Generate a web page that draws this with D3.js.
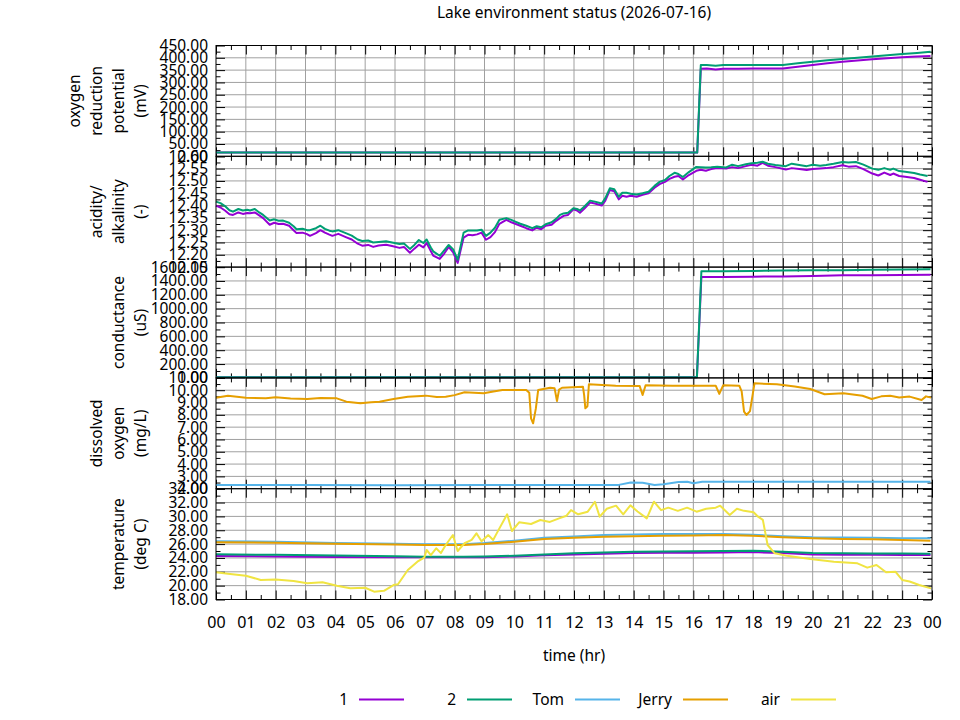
<!DOCTYPE html>
<html>
<head>
<meta charset="utf-8">
<script src="https://cdn.jsdelivr.net/npm/d3@7"></script>
<style>
  html, body { margin: 0; padding: 0; background: #fff; }
  svg { display: block; font-family: "Noto Sans", sans-serif; }
</style>
</head>
<body>
<div id="chart"></div>
<script>
  const TITLE = "Lake environment status (2026-07-16)";
  const X_LABEL = "time (hr)";
  const HOUR_TICKS = [0, 1, 2, 3, 4, 5, 6, 7, 8, 9, 10, 11, 12, 13, 14, 15, 16, 17, 18, 19, 20, 21, 22, 23, 24];
  const HOUR_LABELS = ["00", "01", "02", "03", "04", "05", "06", "07", "08", "09", "10", "11", "12", "13", "14", "15", "16", "17", "18", "19", "20", "21", "22", "23", "00"];

  const SERIES_NAMES = ["1", "2", "Tom", "Jerry", "air"];
  const SERIES_COLORS = ["#9400d3", "#009e73", "#56b4e9", "#e69f00", "#f0e442"];

  // oxygen reduction potential (mV)
  const ORP_TIME = [0, 16.13, 16.25, 16.45, 16.75, 17.0, 17.5, 18.0, 18.5, 19.0, 19.5, 20.0, 20.5, 21.0, 21.5, 22.0, 22.5, 23.0, 23.5, 23.95];
  const ORP_1 = [15, 15, 356, 357, 353, 356, 356, 357, 357, 357, 364, 371, 378, 384, 389, 394, 398, 402, 405, 407];
  const ORP_2 = [15, 15, 371, 371, 368, 371, 371, 371, 371, 371, 378, 384, 390, 395, 400, 405, 410, 415, 420, 425];

  // acidity / alkalinity
  const PH_TIME = [0.00, 0.15, 0.30, 0.45, 0.57, 0.75, 0.90, 1.05, 1.14, 1.30, 1.45, 1.58, 1.80, 1.95, 2.10, 2.25, 2.45, 2.60, 2.70, 2.90,
    3.05, 3.15, 3.35, 3.50, 3.65, 3.80, 3.90, 4.10, 4.35, 4.55, 4.75, 4.90, 5.10, 5.27, 5.45, 5.70, 5.90, 6.15, 6.30, 6.50,
    6.65, 6.80, 6.95, 7.06, 7.20, 7.28, 7.50, 7.65, 7.80, 7.95, 8.10, 8.30, 8.45, 8.60, 8.75, 8.90, 9.05, 9.20, 9.35, 9.50,
    9.73, 9.90, 10.05, 10.20, 10.40, 10.60, 10.75, 10.90, 11.05, 11.25, 11.40, 11.53, 11.65, 11.80, 11.98, 12.10, 12.20, 12.35, 12.54, 12.70,
    12.93, 13.05, 13.20, 13.35, 13.50, 13.62, 13.76, 13.90, 14.10, 14.30, 14.50, 14.70, 14.87, 15.05, 15.20, 15.37, 15.50, 15.65, 15.85, 16.10,
    16.25, 16.42, 16.60, 16.80, 17.10, 17.30, 17.50, 17.76, 17.95, 18.15, 18.32, 18.50, 18.75, 19.10, 19.30, 19.55, 19.80, 20.00, 20.25, 20.45,
    20.70, 21.00, 21.20, 21.45, 21.70, 22.00, 22.20, 22.40, 22.60, 22.70, 22.90, 23.10, 23.40, 23.60, 23.85];
  const PH_1 = [12.400, 12.392, 12.380, 12.365, 12.362, 12.372, 12.366, 12.370, 12.369, 12.372, 12.360, 12.349, 12.322, 12.330, 12.325, 12.326, 12.318, 12.300, 12.288, 12.290,
    12.284, 12.277, 12.288, 12.300, 12.290, 12.282, 12.277, 12.285, 12.272, 12.262, 12.245, 12.237, 12.240, 12.232, 12.238, 12.241, 12.236, 12.228, 12.232, 12.208,
    12.225, 12.241, 12.230, 12.248, 12.215, 12.197, 12.183, 12.205, 12.232, 12.210, 12.167, 12.270, 12.281, 12.279, 12.283, 12.290, 12.261, 12.272, 12.292, 12.326,
    12.342, 12.332, 12.325, 12.318, 12.308, 12.299, 12.310, 12.304, 12.318, 12.322, 12.338, 12.349, 12.358, 12.362, 12.385, 12.380, 12.371, 12.388, 12.412, 12.408,
    12.400, 12.420, 12.463, 12.458, 12.425, 12.440, 12.436, 12.440, 12.436, 12.444, 12.450, 12.472, 12.487, 12.496, 12.508, 12.517, 12.520, 12.506, 12.524, 12.541,
    12.545, 12.541, 12.548, 12.552, 12.550, 12.556, 12.552, 12.560, 12.566, 12.562, 12.573, 12.562, 12.556, 12.546, 12.552, 12.548, 12.544, 12.548, 12.550, 12.552,
    12.556, 12.564, 12.558, 12.560, 12.548, 12.530, 12.522, 12.534, 12.524, 12.530, 12.520, 12.517, 12.512, 12.505, 12.496];
  const PH_2 = [12.416, 12.410, 12.398, 12.381, 12.375, 12.386, 12.380, 12.383, 12.380, 12.386, 12.372, 12.362, 12.339, 12.344, 12.338, 12.339, 12.330, 12.316, 12.304, 12.306,
    12.300, 12.300, 12.308, 12.318, 12.305, 12.298, 12.295, 12.300, 12.288, 12.278, 12.262, 12.256, 12.258, 12.250, 12.252, 12.255, 12.250, 12.244, 12.246, 12.224,
    12.240, 12.260, 12.248, 12.262, 12.230, 12.214, 12.196, 12.218, 12.240, 12.222, 12.180, 12.290, 12.299, 12.299, 12.299, 12.302, 12.277, 12.290, 12.310, 12.342,
    12.349, 12.342, 12.334, 12.326, 12.318, 12.308, 12.316, 12.312, 12.324, 12.332, 12.346, 12.362, 12.368, 12.371, 12.389, 12.386, 12.380, 12.396, 12.420, 12.416,
    12.408, 12.430, 12.470, 12.466, 12.436, 12.452, 12.452, 12.448, 12.445, 12.450, 12.456, 12.480, 12.496, 12.504, 12.520, 12.533, 12.528, 12.516, 12.536, 12.557,
    12.556, 12.555, 12.556, 12.558, 12.555, 12.566, 12.560, 12.568, 12.572, 12.574, 12.578, 12.570, 12.565, 12.560, 12.570, 12.565, 12.560, 12.566, 12.562, 12.565,
    12.570, 12.577, 12.575, 12.577, 12.566, 12.550, 12.545, 12.552, 12.545, 12.550, 12.540, 12.537, 12.532, 12.526, 12.520];

  // conductance (uS)
  const COND_TIME = [0, 16.12, 16.27, 17, 18, 19, 20, 21, 22, 23, 23.95];
  const COND_1 = [10, 10, 1457, 1457, 1462, 1466, 1470, 1481, 1484, 1487, 1490];
  const COND_2 = [10, 10, 1539, 1540, 1543, 1552, 1553, 1555, 1560, 1567, 1568];

  // dissolved oxygen (mg/L)
  const DO_TOM_TIME = [0, 3, 6, 9, 12, 13.5, 13.9, 14.3, 14.7, 15.0, 15.5, 15.8, 16.0, 16.3, 18, 20, 22, 23.95];
  const DO_TOM = [2.30, 2.30, 2.29, 2.30, 2.30, 2.31, 2.50, 2.48, 2.30, 2.36, 2.55, 2.56, 2.44, 2.57, 2.57, 2.57, 2.56, 2.57];
  const DO_JERRY_TIME = [0, 0.4, 1, 1.67, 2, 2.5, 3.06, 3.5, 4.05, 4.37, 4.84, 5.2, 5.48, 5.95, 6.43, 7.03, 7.4, 7.7, 8.0, 8.33,
    8.97, 9.3, 9.6, 10.4, 10.5, 10.56, 10.63, 10.72, 10.8, 11.2, 11.35, 11.43, 11.5, 11.6, 12.3, 12.34, 12.38, 12.45, 12.5, 13.4,
    14.2, 14.3, 14.4, 15.3, 16.75, 16.87, 17.0, 17.54, 17.62, 17.7, 17.78, 17.9, 18.05, 18.8, 19.4, 19.92, 20.4, 21.03, 21.67, 21.98,
    22.3, 22.6, 22.9, 23.25, 23.65, 23.8, 23.97];
  const DO_JERRY = [9.39, 9.55, 9.39, 9.34, 9.42, 9.33, 9.28, 9.36, 9.34, 9.07, 8.94, 9.02, 9.07, 9.28, 9.47, 9.56, 9.45, 9.47, 9.60, 9.83,
    9.75, 9.90, 10.02, 10.02, 9.80, 7.72, 7.31, 8.50, 10.02, 10.20, 10.15, 9.12, 10.05, 10.20, 10.29, 9.60, 8.53, 8.70, 10.48, 10.37,
    10.35, 9.61, 10.40, 10.37, 10.37, 9.70, 10.40, 10.37, 9.90, 8.26, 7.99, 8.30, 10.56, 10.48, 10.30, 10.10, 9.67, 9.75, 9.55, 9.29,
    9.50, 9.55, 9.40, 9.48, 9.20, 9.50, 9.40];

  // temperature (deg C)
  const TEMP_TIME = [0, 2, 4, 6, 7, 8.3, 9, 10, 11, 12, 13, 14, 15, 16, 17, 18, 19, 20, 21, 22, 23, 23.95];
  const TEMP_1 = [24.28, 24.22, 24.15, 24.10, 24.09, 24.09, 24.10, 24.22, 24.38, 24.50, 24.62, 24.70, 24.74, 24.76, 24.80, 24.85, 24.70, 24.50, 24.47, 24.45, 24.44, 24.43];
  const TEMP_2 = [24.52, 24.45, 24.35, 24.25, 24.18, 24.18, 24.20, 24.32, 24.50, 24.67, 24.80, 24.90, 24.93, 24.95, 25.00, 25.05, 24.90, 24.70, 24.67, 24.65, 24.63, 24.62];
  const TEMP_TOM = [26.42, 26.33, 26.15, 26.05, 25.98, 25.98, 26.15, 26.50, 26.90, 27.10, 27.30, 27.40, 27.45, 27.45, 27.45, 27.35, 27.15, 27.00, 26.95, 26.90, 26.85, 26.84];
  const TEMP_JERRY = [26.26, 26.20, 26.05, 25.95, 25.87, 25.87, 26.00, 26.35, 26.74, 26.90, 27.07, 27.15, 27.21, 27.25, 27.31, 27.20, 27.00, 26.84, 26.75, 26.69, 26.60, 26.50];
  const AIR_TIME = [0, 0.4, 1.0, 1.5, 2.0, 2.6, 3.06, 3.57, 4.05, 4.5, 5.0, 5.3, 5.63, 5.95, 6.1, 6.43, 6.75, 6.98, 7.06, 7.2,
    7.38, 7.54, 7.7, 7.94, 8.1, 8.33, 8.57, 8.73, 8.9, 9.13, 9.29, 9.44, 9.76, 9.92, 10.16, 10.56, 10.87, 11.19, 11.5, 11.75,
    11.9, 12.14, 12.46, 12.7, 12.86, 13.1, 13.41, 13.65, 13.89, 14.13, 14.44, 14.68, 14.92, 15.16, 15.48, 15.79, 16.11, 16.43, 16.75, 16.9,
    17.22, 17.46, 17.7, 18.02, 18.17, 18.33, 18.49, 18.73, 19.13, 19.92, 20.71, 21.5, 21.83, 22.14, 22.46, 22.78, 23.0, 23.25, 23.57, 23.97];
  const AIR = [21.93, 21.73, 21.44, 20.82, 20.90, 20.67, 20.34, 20.50, 19.99, 19.61, 19.70, 19.13, 19.25, 20.09, 20.20, 22.26, 23.46, 24.04, 25.15, 24.40,
    25.39, 24.70, 25.87, 27.31, 25.00, 26.12, 26.60, 27.56, 26.40, 27.30, 26.60, 27.80, 30.30, 27.89, 29.14, 28.90, 29.48, 29.20, 29.72, 30.10,
    30.92, 30.30, 30.68, 32.12, 29.96, 31.10, 31.55, 30.30, 31.60, 30.70, 29.72, 32.12, 30.90, 31.26, 30.80, 31.26, 30.68, 31.10, 31.26, 31.55,
    30.20, 31.10, 30.80, 30.60, 29.96, 29.50, 25.87, 24.67, 24.33, 23.85, 23.46, 23.22, 22.60, 22.98, 21.93, 22.00, 20.82, 20.60, 20.09, 19.61];

  const PANELS = [
    { label: ["oxygen", "reduction", "potential", "(mV)"], domain: [0, 450], step: 50,
      series: [{ idx: 0, t: ORP_TIME, v: ORP_1 }, { idx: 1, t: ORP_TIME, v: ORP_2 }] },
    { label: ["acidity/", "alkalinity", "(-)"], domain: [12.15, 12.60], step: 0.05,
      series: [{ idx: 0, t: PH_TIME, v: PH_1 }, { idx: 1, t: PH_TIME, v: PH_2 }] },
    { label: ["conductance", "(uS)"], domain: [0, 1600], step: 200,
      series: [{ idx: 0, t: COND_TIME, v: COND_1 }, { idx: 1, t: COND_TIME, v: COND_2 }] },
    { label: ["dissolved", "oxygen", "(mg/L)"], domain: [2, 11], step: 1,
      series: [{ idx: 2, t: DO_TOM_TIME, v: DO_TOM }, { idx: 3, t: DO_JERRY_TIME, v: DO_JERRY }] },
    { label: ["temperature", "(deg C)"], domain: [18, 34], step: 2,
      series: [
        { idx: 0, t: TEMP_TIME, v: TEMP_1 }, { idx: 1, t: TEMP_TIME, v: TEMP_2 },
        { idx: 2, t: TEMP_TIME, v: TEMP_TOM }, { idx: 3, t: TEMP_TIME, v: TEMP_JERRY },
        { idx: 4, t: AIR_TIME, v: AIR }] },
  ];

  (function () {
    const width = 960, height = 720;
    const plotLeft = 216, plotRight = 932, plotTop = 45.5, plotBottom = 599.5;
    const fontSize = 15.5;
    const gridColor = "#a0a0a0";

    const svg = d3.select("#chart").append("svg")
      .attr("width", width).attr("height", height)
      .attr("viewBox", `0 0 ${width} ${height}`);

    const x = d3.scaleLinear().domain([0, 24]).range([plotLeft, plotRight]);
    const minorHours = HOUR_TICKS.slice(0, -1).map((h) => h + 0.5);
    const panelH = (plotBottom - plotTop) / PANELS.length;

    function tickList(domain, step, offset) {
      const n = Math.round((domain[1] - domain[0]) / step);
      const out = [];
      for (let i = 0; i <= n; i++) {
        const v = domain[0] + (i + offset) * step;
        if (v <= domain[1] + 1e-9) out.push(+v.toFixed(6));
      }
      return out;
    }

    function styleTicks(axis) {
      axis.select(".domain").remove();
      axis.selectAll("line").attr("stroke", "#000").attr("stroke-width", 1);
    }

    PANELS.forEach((panel, i) => {
      const top = plotTop + i * panelH;
      const bottom = top + panelH;
      const y = d3.scaleLinear().domain(panel.domain).range([bottom, top]);
      const major = tickList(panel.domain, panel.step, 0);
      const minor = tickList(panel.domain, panel.step, 0.5);
      const g = svg.append("g");

      // grid
      g.append("g").selectAll("line").data(HOUR_TICKS.slice(1, -1)).join("line")
        .attr("x1", (d) => x(d)).attr("x2", (d) => x(d)).attr("y1", top).attr("y2", bottom)
        .attr("stroke", gridColor).attr("stroke-width", 1);
      g.append("g").selectAll("line").data(major.slice(1, -1)).join("line")
        .attr("x1", plotLeft).attr("x2", plotRight).attr("y1", (d) => y(d)).attr("y2", (d) => y(d))
        .attr("stroke", gridColor).attr("stroke-width", 1);

      // inward ticks on all four sides
      g.append("g").attr("transform", `translate(${plotLeft},0)`)
        .call(d3.axisLeft(y).tickValues(major).tickSize(-9).tickPadding(8).tickFormat(d3.format(".2f")))
        .call(styleTicks)
        .call((a) => a.selectAll("text").attr("fill", "#000").attr("font-size", fontSize).attr("font-family", "Noto Sans"));
      g.append("g").attr("transform", `translate(${plotLeft},0)`)
        .call(d3.axisLeft(y).tickValues(minor).tickSize(-4.5).tickFormat(""))
        .call(styleTicks);
      g.append("g").attr("transform", `translate(${plotRight},0)`)
        .call(d3.axisRight(y).tickValues(major).tickSize(-9).tickFormat(""))
        .call(styleTicks);
      g.append("g").attr("transform", `translate(${plotRight},0)`)
        .call(d3.axisRight(y).tickValues(minor).tickSize(-4.5).tickFormat(""))
        .call(styleTicks);
      g.append("g").attr("transform", `translate(0,${top})`)
        .call(d3.axisTop(x).tickValues(HOUR_TICKS).tickSize(-9).tickFormat(""))
        .call(styleTicks);
      g.append("g").attr("transform", `translate(0,${top})`)
        .call(d3.axisTop(x).tickValues(minorHours).tickSize(-4.5).tickFormat(""))
        .call(styleTicks);
      const isLast = i === PANELS.length - 1;
      g.append("g").attr("transform", `translate(0,${bottom})`)
        .call(d3.axisBottom(x).tickValues(HOUR_TICKS).tickSize(-9).tickPadding(17)
          .tickFormat((d, k) => (isLast ? HOUR_LABELS[k] : "")))
        .call(styleTicks)
        .call((a) => a.selectAll("text").attr("fill", "#000").attr("font-size", 16).attr("font-family", "Noto Sans"));
      g.append("g").attr("transform", `translate(0,${bottom})`)
        .call(d3.axisBottom(x).tickValues(minorHours).tickSize(-4.5).tickFormat(""))
        .call(styleTicks);

      // y label lines
      const cy = (top + bottom) / 2;
      const n = panel.label.length;
      panel.label.forEach((text, k) => {
        const lx = 140 - 22 * (n - 1 - k);
        g.append("text")
          .attr("transform", `translate(${lx},${cy}) rotate(-90)`)
          .attr("text-anchor", "middle")
          .attr("dominant-baseline", "central")
          .attr("font-size", fontSize)
          .attr("fill", "#000")
          .text(text);
      });

      // series
      const line = d3.line().x((d) => x(d[0])).y((d) => y(d[1]));
      panel.series.forEach((s) => {
        const pts = s.t.map((t, k) => [t, s.v[k]]);
        g.append("path")
          .attr("d", line(pts))
          .attr("fill", "none")
          .attr("stroke", SERIES_COLORS[s.idx])
          .attr("stroke-width", 2)
          .attr("stroke-linejoin", "round");
      });

      // border
      g.append("rect")
        .attr("x", plotLeft).attr("y", top)
        .attr("width", plotRight - plotLeft).attr("height", bottom - top)
        .attr("fill", "none").attr("stroke", "#000").attr("stroke-width", 1);
    });

    svg.append("text")
      .attr("x", (plotLeft + plotRight) / 2).attr("y", 18)
      .attr("text-anchor", "middle").attr("font-size", 15.5).attr("fill", "#000")
      .text(TITLE);

    svg.append("text")
      .attr("x", (plotLeft + plotRight) / 2).attr("y", 661)
      .attr("text-anchor", "middle").attr("font-size", fontSize).attr("fill", "#000")
      .text(X_LABEL);

    // legend
    const legend = svg.append("g");
    SERIES_NAMES.forEach((name, k) => {
      const right = 348 + 108 * k;
      legend.append("text")
        .attr("x", right).attr("y", 705)
        .attr("text-anchor", "end").attr("font-size", fontSize).attr("fill", "#000")
        .text(name);
      legend.append("line")
        .attr("x1", right + 11).attr("x2", right + 56)
        .attr("y1", 699.5).attr("y2", 699.5)
        .attr("stroke", SERIES_COLORS[k]).attr("stroke-width", 2);
    });
  })();
</script>
</body>
</html>
